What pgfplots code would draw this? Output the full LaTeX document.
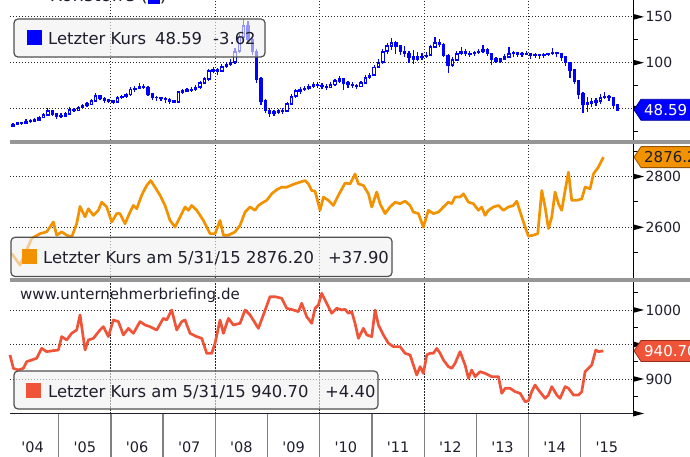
\documentclass[border=0pt]{standalone}
\usepackage{pgfplots}
\pgfplotsset{compat=1.18}
\usepackage{pgfplotstable}
\usepackage{fontspec}
\setmainfont{DejaVu Sans}
\newfontfamily\labfont{DejaVu Sans}[Ligatures=TeXOff]
\definecolor{bblue}{RGB}{0,0,255}
\definecolor{borange}{RGB}{242,146,0}
\definecolor{borangedk}{RGB}{150,85,0}
\definecolor{bred}{RGB}{240,84,56}
\definecolor{breddk}{RGB}{150,45,25}
\definecolor{sepgrey}{RGB}{150,150,150}
\definecolor{txt}{RGB}{30,30,45}
\definecolor{boxfill}{RGB}{240,240,240}
\definecolor{boxdraw}{RGB}{80,80,80}
\newcommand{\legfont}{\fontsize{16.4bp}{19bp}\selectfont}
\newcommand{\tickfont}{\fontsize{14bp}{16bp}\selectfont}
\newcommand{\xfont}{\labfont\fontsize{14.5bp}{16bp}\selectfont}
\newcommand{\tagfont}{\fontsize{15bp}{17bp}\selectfont}

\pgfplotstableread{
m o h l c
1.5 31.0 34.0 30.5 32.5
2.5 32.5 35.5 31.5 34.0
3.5 34.0 35.5 32.5 34.0
4.5 34.0 38.5 33.5 36.0
5.5 36.0 38.0 34.5 36.5
6.5 36.5 39.5 35.5 37.5
7.5 37.5 42.0 37.0 40.0
8.5 40.0 45.0 39.5 43.0
9.5 43.0 50.0 42.5 47.0
10.5 47.0 48.5 42.0 44.0
11.5 44.0 45.0 39.0 42.0
12.5 42.0 45.0 39.5 42.0
13.5 42.0 46.0 41.0 44.0
14.5 44.0 51.5 43.5 49.0
15.5 49.0 50.5 46.5 48.0
16.5 48.0 52.5 47.0 51.0
17.5 51.0 55.0 50.0 53.0
18.5 53.0 57.0 52.0 55.0
19.5 55.0 60.5 54.0 58.0
20.5 58.0 66.5 57.0 64.0
21.5 64.0 65.0 59.0 61.0
22.5 61.0 62.0 56.5 59.0
23.5 59.0 60.5 56.0 58.0
24.5 58.0 59.5 55.0 57.0
25.5 57.0 64.0 56.0 62.0
26.5 62.0 65.0 60.0 63.0
27.5 63.0 67.0 61.5 65.0
28.5 65.0 73.5 64.0 71.0
29.5 71.0 74.0 68.5 72.0
30.5 72.0 77.5 71.0 74.0
31.5 74.0 76.5 71.0 73.0
32.5 73.0 74.0 64.0 66.0
33.5 66.0 67.0 59.5 62.0
34.5 62.0 63.5 58.5 62.0
35.5 62.0 63.0 58.5 61.0
36.5 61.0 62.0 56.5 60.0
37.5 60.0 61.0 55.0 58.0
38.5 58.0 59.0 55.5 57.0
39.5 57.0 69.0 56.5 68.0
40.5 68.0 71.0 66.0 69.0
41.5 69.0 72.0 67.5 70.0
42.5 70.0 73.0 68.5 71.0
43.5 71.0 75.5 69.5 73.0
44.5 73.0 80.5 71.5 78.0
45.5 78.0 84.5 76.5 82.0
46.5 82.0 93.5 80.5 91.0
47.5 91.0 95.0 88.5 92.0
48.5 92.0 94.5 86.5 91.0
49.5 91.0 98.5 89.5 96.0
50.5 96.0 101.0 94.0 98.0
51.5 98.0 103.5 96.0 100.0
52.5 100.0 115.5 99.0 112.0
53.5 112.0 131.0 110.5 128.0
54.5 128.0 148.0 126.5 140.0
55.5 140.0 146.0 122.5 125.0
56.5 125.0 127.0 108.5 112.0
57.5 112.0 114.5 78.0 82.0
58.5 82.0 84.0 53.5 58.0
59.5 58.0 60.0 45.5 48.0
60.5 48.0 50.0 41.0 45.0
61.5 45.0 48.0 42.0 46.0
62.5 46.0 49.5 43.5 47.0
63.5 47.0 50.0 44.0 47.0
64.5 47.0 57.5 46.0 55.0
65.5 55.0 65.5 54.0 63.0
66.5 63.0 71.5 61.5 69.0
67.5 69.0 73.5 66.0 71.0
68.5 71.0 75.0 69.0 72.0
69.5 72.0 76.5 70.0 74.0
70.5 74.0 78.5 72.0 76.0
71.5 76.0 78.5 72.5 75.0
72.5 75.0 78.0 71.5 74.0
73.5 74.0 76.5 70.0 73.0
74.5 73.0 78.5 72.0 76.0
75.5 76.0 82.5 75.0 80.0
76.5 80.0 85.0 77.5 82.0
77.5 82.0 83.0 70.0 78.0
78.5 78.0 79.5 72.5 76.0
79.5 76.0 78.5 72.0 75.0
80.5 75.0 77.0 71.5 74.0
81.5 74.0 80.0 73.0 78.0
82.5 78.0 86.0 77.0 84.0
83.5 84.0 88.5 82.5 86.0
84.5 86.0 97.0 85.0 95.0
85.5 95.0 103.5 94.0 100.0
86.5 100.0 115.0 99.0 112.0
87.5 112.0 121.0 110.0 118.0
88.5 118.0 126.5 114.0 122.0
89.5 122.0 124.0 110.0 118.0
90.5 118.0 119.5 108.0 112.0
91.5 112.0 118.0 106.0 110.0
92.5 110.0 113.0 100.0 106.0
93.5 106.0 114.0 99.0 104.0
94.5 104.0 112.0 102.0 106.0
95.5 106.0 110.5 103.0 107.0
96.5 107.0 112.0 105.0 108.0
97.5 108.0 119.5 107.0 117.0
98.5 117.0 127.5 115.5 122.0
99.5 122.0 126.0 117.0 120.0
100.5 120.0 121.0 106.0 108.0
101.5 108.0 109.0 89.0 97.0
102.5 97.0 106.0 95.5 103.0
103.5 103.0 113.0 101.5 110.0
104.5 110.0 117.0 108.5 112.0
105.5 112.0 115.0 107.5 110.0
106.5 110.0 112.5 106.5 110.0
107.5 110.0 112.5 107.5 111.0
108.5 111.0 115.0 109.5 112.0
109.5 112.0 119.0 110.5 114.0
110.5 114.0 116.0 107.5 110.0
111.5 110.0 111.0 97.0 104.0
112.5 104.0 106.5 100.0 102.0
113.5 102.0 105.5 99.5 104.0
114.5 104.0 109.5 102.5 106.0
115.5 106.0 117.0 105.0 110.0
116.5 110.0 113.0 106.5 111.0
117.5 111.0 112.0 106.0 109.0
118.5 109.0 112.0 106.5 110.0
119.5 110.0 112.5 108.5 110.0
120.5 110.0 110.5 104.5 108.0
121.5 108.0 111.0 105.5 109.0
122.5 109.0 110.0 104.5 108.0
123.5 108.0 110.5 105.5 109.0
124.5 109.0 111.0 107.0 110.0
125.5 110.0 115.5 108.5 111.0
126.5 111.0 112.0 106.0 110.0
127.5 110.0 111.0 101.5 106.0
128.5 106.0 107.0 96.0 100.0
129.5 100.0 101.0 83.5 92.0
130.5 92.0 93.0 77.0 80.0
131.5 80.0 81.0 60.0 66.0
132.5 66.0 67.5 45.0 55.0
133.5 55.0 62.0 46.0 56.0
134.5 56.0 61.5 52.0 57.0
135.5 57.0 61.0 52.5 58.0
136.5 58.0 66.0 55.0 62.0
137.5 62.0 68.0 60.0 63.0
138.5 63.0 65.0 58.0 62.0
139.5 62.0 63.0 49.5 54.0
140.5 54.0 55.0 47.5 48.59
}\brent

\pgfplotstableread{
m v
1.19 2497
3.10 2451
5.79 2556
7.70 2575
9.23 2582
10.77 2621
11.53 2569
12.68 2582
13.83 2569
14.98 2562
16.13 2614
16.90 2682
18.05 2641
18.81 2673
19.96 2647
21.11 2667
21.88 2699
23.03 2680
24.18 2621
25.33 2654
26.09 2654
27.24 2614
28.39 2660
29.16 2686
29.92 2673
31.07 2726
32.22 2765
33.14 2784
34.14 2758
35.29 2726
36.44 2686
37.59 2627
38.74 2601
39.89 2641
41.04 2680
41.81 2667
42.57 2686
43.72 2667
45.25 2627
46.40 2588
46.78 2575
47.93 2575
49.08 2627
49.85 2569
51.00 2569
52.53 2582
53.68 2608
54.83 2660
55.98 2680
57.13 2667
57.89 2686
59.04 2699
59.81 2706
60.96 2732
62.11 2748
63.26 2758
64.41 2758
65.94 2769
67.47 2778
68.62 2784
69.39 2771
70.15 2745
70.92 2742
72.07 2667
72.84 2719
73.98 2706
75.13 2686
76.28 2726
77.82 2774
78.97 2771
80.11 2810
80.88 2771
82.03 2765
83.18 2732
83.95 2680
85.10 2739
85.86 2693
87.01 2654
88.16 2680
89.31 2699
90.46 2693
91.61 2703
92.76 2686
93.52 2660
94.67 2654
95.82 2601
96.97 2667
98.12 2654
99.27 2660
100.42 2680
101.57 2699
102.34 2693
103.10 2719
104.25 2719
105.02 2732
106.17 2699
107.32 2693
108.47 2667
109.23 2680
110.00 2647
110.77 2667
111.92 2680
113.07 2686
114.21 2667
115.36 2680
116.51 2686
117.28 2703
118.43 2641
119.20 2601
119.96 2565
121.11 2569
122.11 2575
123.03 2745
123.79 2680
124.56 2595
125.33 2641
126.09 2739
126.86 2693
127.62 2667
128.39 2745
129.16 2817
129.92 2706
131.07 2706
132.22 2712
132.99 2758
134.14 2752
134.90 2810
136.05 2837
137.20 2876.2
}\orangedata

\pgfplotstableread{
m v
0.80 934.8
1.57 915.5
2.72 913.0
3.87 915.5
4.64 925.1
5.79 927.5
6.93 930.0
8.08 944.4
9.23 939.6
10.77 941.1
11.92 942.0
12.68 961.4
13.83 956.5
14.98 966.2
16.13 971.0
16.90 992.8
18.05 942.0
18.81 956.5
19.96 958.9
21.49 971.0
22.26 975.8
23.41 961.4
24.56 985.5
25.71 983.1
26.86 963.8
28.01 973.4
29.16 966.2
30.69 983.1
31.84 978.3
32.99 975.8
34.52 971.0
36.05 987.9
36.82 985.5
37.97 1000.0
39.12 971.0
40.27 983.1
41.03 985.5
42.18 966.2
43.72 961.4
44.87 958.9
46.02 937.2
47.16 937.2
47.93 951.7
49.08 985.5
49.85 966.2
51.00 987.9
52.15 978.3
53.68 980.7
54.83 1000.0
55.98 992.8
57.89 973.4
59.04 992.8
60.57 1019.3
61.72 1019.3
63.26 1016.9
64.41 1002.4
65.94 1000.0
67.09 997.6
67.85 1009.7
69.00 990.3
70.15 980.7
70.92 1002.4
71.68 1007.2
72.45 1024.2
73.22 1014.5
73.98 1004.8
74.75 995.2
75.90 1002.4
77.05 1000.0
77.82 1001.0
78.58 995.2
79.35 997.6
80.11 980.7
80.88 958.9
82.03 973.4
82.80 963.8
83.95 961.4
84.71 1000.0
85.48 978.3
86.63 963.8
87.78 951.7
88.93 946.9
90.46 946.9
91.61 937.2
92.76 934.8
93.52 920.3
94.29 905.8
95.06 917.9
95.82 908.2
96.59 934.8
97.35 937.2
98.12 937.2
98.89 944.4
99.66 937.2
100.42 927.5
101.57 917.9
102.34 915.5
103.10 922.7
104.25 939.6
105.40 920.3
106.17 901.0
106.93 913.0
107.70 903.4
108.85 910.6
110.00 908.2
111.53 903.4
113.07 903.4
113.83 879.2
114.60 886.5
115.75 886.5
116.90 881.6
118.05 879.2
119.20 867.1
119.96 868.6
120.73 881.6
121.49 891.3
122.26 884.1
123.79 872.0
124.56 876.8
125.33 888.9
126.48 876.8
127.24 872.0
128.39 888.9
129.16 886.5
130.31 876.8
131.46 876.8
132.22 881.6
132.99 910.6
134.52 920.3
135.44 942.0
136.05 939.6
137.20 940.7
}\reddata

\pgfplotsset{
  panel/.style={
    scale only axis, width=623bp, xmin=0.8, xmax=144, clip=false,
    anchor=south west,
    axis x line*=bottom, axis y line*=right,
    x axis line style={draw=none},
    y axis line style={draw=black, line width=1bp},
    xtick={24,48,72,96,120}, xticklabels={,,,,},
    xmajorgrids, ymajorgrids,
    major grid style={draw=black!85, line width=0.9bp, dash pattern=on 1.3bp off 1.7bp},
    major tick length=0bp, minor tick length=5bp, tick align=outside,
    every minor tick/.append style={draw=black, line width=1bp},
    yticklabel style={font=\tickfont, text=txt, anchor=west, xshift=9bp},
    /pgf/number format/assume math mode=true,
    /pgf/number format/set thousands separator={},
    scaled y ticks=false,
  },
}
\newcommand{\tri}[1]{\fill[black] (axis cs:144,#1) ++(0bp,3bp) -- ++(11bp,-3bp) -- ++(-11bp,-3bp) -- cycle;}
\newcommand{\valtag}[5]{%
  \draw[fill=#2, draw=#3, line width=0.8bp, line join=round] (axis cs:144,#1) ++(1bp,0bp) -- ++(7bp,10.5bp) -- ++(80bp,0bp) -- ++(0bp,-21bp) -- ++(-80bp,0bp) -- cycle;
  \node[anchor=west, xshift=11bp, inner sep=0pt, text=#4, font=\tagfont] at (axis cs:144,#1) {#5};}

\begin{document}
\begin{tikzpicture}
\useasboundingbox (0bp,0bp) rectangle (690bp,457bp);
\clip (0bp,0bp) rectangle (690bp,457bp);

% ---------- top panel ----------
\begin{axis}[panel, at={(10bp,317bp)}, height=140bp, ymin=15.6, ymax=168.4,
  ytick={50,100,150}, yticklabels={,100,150}, minor ytick={25,75,125}]
\addplot[draw=none, mark=none, error bars/.cd, y dir=both, y explicit, error mark=none,
  error bar style={draw=bblue, line width=1.2bp}]
  table[x=m, y expr={(\thisrow{h}+\thisrow{l})/2}, y error expr={(\thisrow{h}-\thisrow{l})/2}] {\brent};
\addplot[draw=none, mark=none, error bars/.cd, y dir=both, y explicit, error mark=none,
  error bar style={draw=bblue, line width=3.4bp}]
  table[x=m, y expr={(\thisrow{o}+\thisrow{c})/2}, y error expr={abs(\thisrow{c}-\thisrow{o})/2+0.8}] {\brent};
\addplot[draw=none, mark=none, error bars/.cd, y dir=both, y explicit, error mark=none,
  error bar style={draw=white, line width=1.4bp}]
  table[x=m, y expr={(\thisrow{o}+\thisrow{c})/2}, y error expr={max((\thisrow{c}-\thisrow{o})/2-1.3,0)}] {\brent};
\tri{50}\tri{100}\tri{150}
\valtag{48.59}{bblue}{bblue!60!black}{white}{48.59}
\end{axis}

% ---------- middle panel ----------
\begin{axis}[panel, at={(10bp,178.7bp)}, height=134.3bp, ymin=2399.2, ymax=2928,
  ytick={2600,2800}, yticklabels={2600,2800}, minor ytick={2500,2700,2900}]
\addplot[borange, line width=2.7bp, line join=round, mark=none] table[x=m, y=v] {\orangedata};
\tri{2600}\tri{2800}
\valtag{2876.2}{borange}{borangedk}{txt}{2876.20}
\end{axis}

% ---------- bottom panel ----------
\begin{axis}[panel, at={(10bp,43.5bp)}, height=131.2bp, ymin=850, ymax=1040.1,
  ytick={850,900,950,1000}, yticklabels={,900,,1000}, minor ytick={875,925,975,1025},
  x axis line style={draw=txt, line width=1.3bp},
  extra x ticks={6,18,30,42,54,66,78,90,102,114,126,138},
  extra x tick labels={'04,'05,'06,'07,'08,'09,'10,'11,'12,'13,'14,'15},
  extra x tick style={grid=none, xticklabel style={font=\xfont, text=txt, anchor=base, yshift=-39bp}}]
\addplot[bred, line width=2.7bp, line join=round, mark=none] table[x=m, y=v] {\reddata};
\tri{850}\tri{900}\tri{950}\tri{1000}
\valtag{940.7}{bred}{breddk}{white}{940.70}
\pgfplotsinvokeforeach{12,24,36,48,60,72,84,96,108,120,132}{
  \draw[black!50, line width=1.3bp] (axis cs:#1,850) -- ++(0bp,-44bp);}
\end{axis}

% separators
\fill[sepgrey] (10bp,313bp) rectangle (690bp,317bp);
\fill[sepgrey] (10bp,174.7bp) rectangle (690bp,178.7bp);

% title (cut off at the top)
\node[anchor=base east, inner sep=0pt, font=\fontsize{18bp}{20bp}\selectfont, text=txt] at (167bp,455.5bp)
  {Rohstoffe (\textcolor{bblue}{\rule[-2.5bp]{12bp}{14bp}})};

% legend boxes
\draw[boxdraw, line width=1.2bp, fill=boxfill, fill opacity=0.62, rounded corners=4bp] (14bp,400bp) rectangle (265bp,438bp);
\fill[bblue] (26.5bp,411.5bp) rectangle (41.5bp,426.5bp);
\node[anchor=base west, inner sep=0pt, font=\legfont, text=txt] at (48bp,412bp) {Letzter Kurs};
\node[anchor=base west, inner sep=0pt, font=\legfont, text=txt] at (155bp,412bp) {48.59};
\node[anchor=base west, inner sep=0pt, font=\legfont, text=txt] at (213bp,412bp) {-3.62};

\draw[boxdraw, line width=1.2bp, fill=boxfill, fill opacity=0.62, rounded corners=4bp] (11bp,180.5bp) rectangle (392bp,219.7bp);
\fill[borange] (22bp,193bp) rectangle (37bp,208bp);
\node[anchor=base west, inner sep=0pt, font=\legfont, text=txt] at (43bp,193bp) {Letzter Kurs am 5/31/15 2876.20};
\node[anchor=base west, inner sep=0pt, font=\legfont, text=txt] at (328bp,193bp) {+37.90};

\node[anchor=base west, inner sep=0pt, font=\fontsize{15bp}{17bp}\selectfont, text=txt] at (20bp,157.5bp) {www.unternehmerbriefing.de};

\draw[boxdraw, line width=1.2bp, fill=boxfill, fill opacity=0.62, rounded corners=4bp] (14bp,48bp) rectangle (378bp,86bp);
\fill[bred] (26bp,59bp) rectangle (41bp,74bp);
\node[anchor=base west, inner sep=0pt, font=\legfont, text=txt] at (48bp,59bp) {Letzter Kurs am 5/31/15 940.70};
\node[anchor=base west, inner sep=0pt, font=\legfont, text=txt] at (325bp,59bp) {+4.40};
\end{tikzpicture}
\end{document}
